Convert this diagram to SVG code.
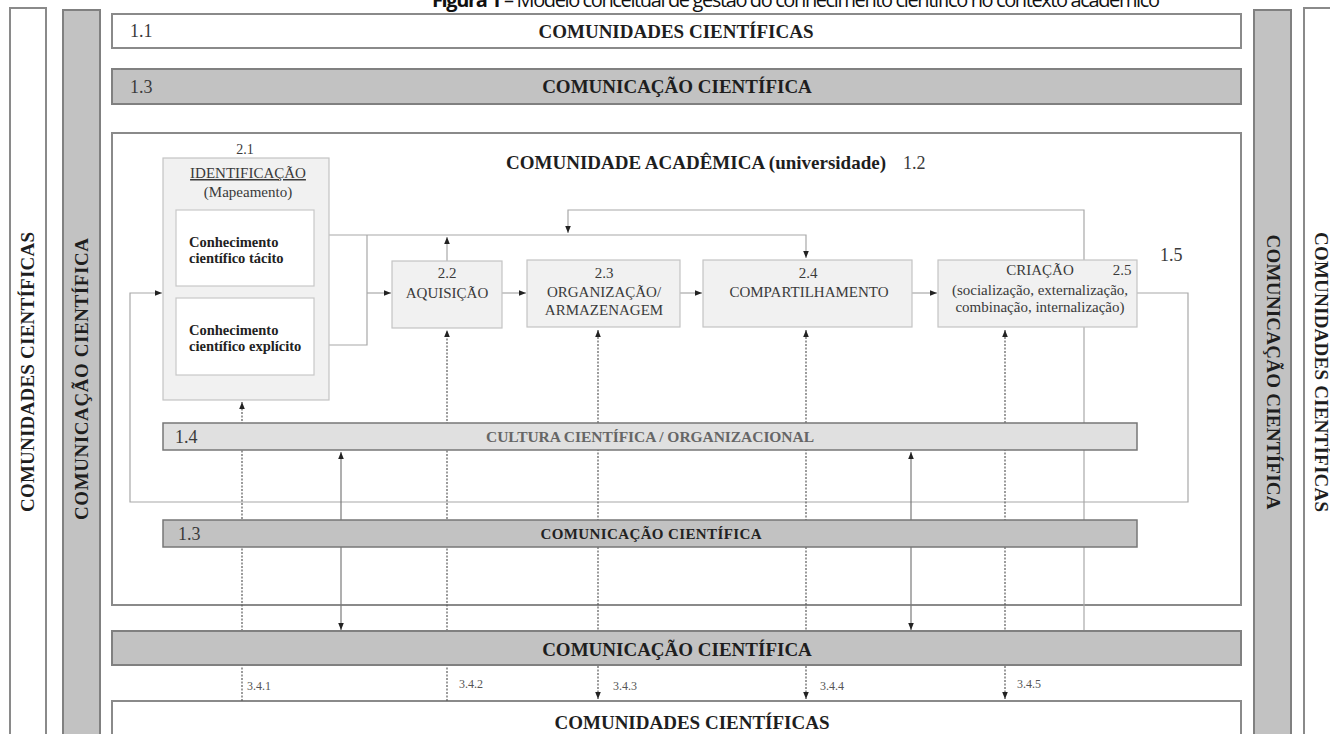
<svg xmlns="http://www.w3.org/2000/svg" width="1330" height="734" viewBox="0 0 1330 734">
<style>
.s{font-family:"Liberation Serif","Times New Roman",serif;}
.b{font-weight:bold;}
.big{font-size:19px;font-weight:bold;fill:#1e1e1e;}
.box{font-size:15px;fill:#3a3a3a;}
.num{font-size:18px;fill:#3a3a3a;}
.lab{font-size:12px;fill:#555;}
.wht{fill:#fff;stroke:#8a8a8a;stroke-width:2;}
.gry{fill:#c2c2c2;stroke:#808080;stroke-width:2;}
.proc{fill:#f1f1f1;stroke:#c4c4c4;stroke-width:1.2;}
.ln{fill:none;stroke:#a8a8a8;stroke-width:1.2;}
.dot{fill:none;stroke:#5a5a5a;stroke-width:1.2;stroke-dasharray:2 1.5;}
.sol{fill:none;stroke:#7a7a7a;stroke-width:1.2;}
</style>
<defs>
<marker id="ah" viewBox="0 0 10 10" refX="10" refY="5" markerWidth="7" markerHeight="7" markerUnits="userSpaceOnUse" orient="auto-start-reverse">
<path d="M0,1 L10,5 L0,9 z" fill="#222"/>
</marker>
</defs>
<rect width="1330" height="734" fill="#fff"/>

<g id="title">
<text x="796" y="7" text-anchor="middle" font-family="'Open Sans','Liberation Sans',sans-serif" font-size="20" fill="#111" textLength="728"><tspan font-weight="bold">Figura 1</tspan> – Modelo conceitual de gestão do conhecimento científico no contexto acadêmico</text>
</g>

<g id="left-comunidades">
<rect class="wht" x="10" y="8" width="36" height="740"/>
<text class="s big" transform="translate(34,372) rotate(-90)" text-anchor="middle" textLength="280">COMUNIDADES CIENTÍFICAS</text>
</g>
<g id="left-comunicacao">
<rect class="gry" x="63" y="10" width="37" height="740"/>
<text class="s big" transform="translate(88,379) rotate(-90)" text-anchor="middle" textLength="282">COMUNICAÇÃO CIENTÍFICA</text>
</g>
<g id="right-comunicacao">
<rect class="gry" x="1254" y="10" width="37" height="740"/>
<text class="s big" transform="translate(1267,372) rotate(90)" text-anchor="middle" textLength="275">COMUNICAÇÃO CIENTÍFICA</text>
</g>
<g id="right-comunidades">
<rect class="wht" x="1304" y="8" width="40" height="740"/>
<text class="s big" transform="translate(1315,372) rotate(90)" text-anchor="middle" textLength="280">COMUNIDADES CIENTÍFICAS</text>
</g>

<g id="n1-1">
<rect class="wht" x="112" y="14" width="1129" height="34"/>
<text class="s num" x="130" y="37" font-size="16">1.1</text>
<text class="s big" x="676" y="38" text-anchor="middle">COMUNIDADES CIENTÍFICAS</text>
</g>
<g id="n1-3-top">
<rect class="gry" x="112" y="69" width="1129" height="35"/>
<text class="s num" x="130" y="93" font-size="16">1.3</text>
<text class="s big" x="677" y="93" text-anchor="middle">COMUNICAÇÃO CIENTÍFICA</text>
</g>
<g id="n1-2">
<rect class="wht" x="112" y="133" width="1129" height="472" stroke="#777"/>
<text class="s" x="506" y="169" font-size="19" fill="#1e1e1e"><tspan font-weight="bold">COMUNIDADE ACADÊMICA (universidade)</tspan><tspan x="903" font-size="18" fill="#3a3a3a">1.2</tspan></text>
</g>
<g id="n3-bottom">
<rect class="wht" x="112" y="701" width="1129" height="60"/>
<text class="s big" x="692" y="729" text-anchor="middle">COMUNIDADES CIENTÍFICAS</text>
</g>

<g id="connectors">
<path class="ln" d="M314,235 H806 V258" marker-end="url(#ah)"/>
<path class="ln" d="M314,345 H367 V235"/>
<path class="ln" d="M367,293 H391" marker-end="url(#ah)"/>
<path class="ln" d="M447,262 V237" marker-end="url(#ah)"/>
<path class="ln" d="M1084,260 V210 H568 V233" marker-end="url(#ah)"/>
<path class="ln" d="M502,293 H526" marker-end="url(#ah)"/>
<path class="ln" d="M680,293 H702" marker-end="url(#ah)"/>
<path class="ln" d="M912,293 H937" marker-end="url(#ah)"/>
<path class="ln" d="M1137,293 H1188 V502 H130 V293 H162" marker-end="url(#ah)"/>
<path class="ln" d="M1084,327 V631"/>
<path class="dot" d="M242,701 V402" marker-end="url(#ah)"/>
<path class="dot" d="M447,701 V330" marker-end="url(#ah)"/>
<path class="dot" d="M598,330 V699" marker-start="url(#ah)" marker-end="url(#ah)"/>
<path class="dot" d="M806,330 V699" marker-start="url(#ah)" marker-end="url(#ah)"/>
<path class="dot" d="M1005,330 V699" marker-start="url(#ah)" marker-end="url(#ah)"/>
<path class="sol" d="M341,452 V630" marker-start="url(#ah)" marker-end="url(#ah)"/>
<path class="sol" d="M911,452 V630" marker-start="url(#ah)" marker-end="url(#ah)"/>
<text class="s lab" x="247" y="690">3.4.1</text>
<text class="s lab" x="459" y="688">3.4.2</text>
<text class="s lab" x="613" y="690">3.4.3</text>
<text class="s lab" x="820" y="690">3.4.4</text>
<text class="s lab" x="1017" y="688">3.4.5</text>
<text class="s num" x="1160" y="261">1.5</text>
</g>

<g id="n1-4">
<rect x="163" y="423" width="974" height="27" fill="#e0e0e0" stroke="#777" stroke-width="1.5"/>
<text class="s" x="175" y="443" font-size="18" fill="#3a3a3a">1.4</text>
<text class="s b" x="650" y="442" text-anchor="middle" font-size="15.5" fill="#666" textLength="328">CULTURA CIENTÍFICA / ORGANIZACIONAL</text>
</g>
<g id="n1-3-inner">
<rect x="163" y="520" width="974" height="27" fill="#c2c2c2" stroke="#777" stroke-width="1.5"/>
<text class="s" x="178" y="540" font-size="18" fill="#3a3a3a">1.3</text>
<text class="s b" x="651" y="539" text-anchor="middle" font-size="15" fill="#222" textLength="221">COMUNICAÇÃO CIENTÍFICA</text>
</g>
<g id="n1-3-bottom">
<rect class="gry" x="112" y="631" width="1129" height="34"/>
<text class="s big" x="677" y="656" text-anchor="middle">COMUNICAÇÃO CIENTÍFICA</text>
</g>

<g id="n2-1">
<text class="s" x="245" y="154" text-anchor="middle" font-size="14" fill="#3a3a3a">2.1</text>
<rect class="proc" x="163" y="158" width="166" height="242" fill="#eeeeee"/>
<text class="s box" x="248" y="178" text-anchor="middle" text-decoration="underline">IDENTIFICAÇÃO</text>
<text class="s box" x="248" y="197" text-anchor="middle">(Mapeamento)</text>
<rect x="176" y="210" width="138" height="76" fill="#fff" stroke="#c8c8c8" stroke-width="1.2"/>
<text class="s b" x="189" y="247" font-size="14.5" fill="#222">Conhecimento</text>
<text class="s b" x="189" y="263" font-size="14.5" fill="#222">científico tácito</text>
<rect x="176" y="298" width="138" height="77" fill="#fff" stroke="#c8c8c8" stroke-width="1.2"/>
<text class="s b" x="189" y="335" font-size="14.5" fill="#222">Conhecimento</text>
<text class="s b" x="189" y="351" font-size="14.5" fill="#222">científico explícito</text>
</g>
<g id="n2-2">
<rect class="proc" x="392" y="261" width="110" height="67"/>
<text class="s box" x="447" y="278" text-anchor="middle">2.2</text>
<text class="s box" x="447" y="298" text-anchor="middle">AQUISIÇÃO</text>
</g>
<g id="n2-3">
<rect class="proc" x="527" y="260" width="153" height="67"/>
<text class="s box" x="604" y="278" text-anchor="middle">2.3</text>
<text class="s box" x="604" y="297" text-anchor="middle">ORGANIZAÇÃO/</text>
<text class="s box" x="604" y="315" text-anchor="middle">ARMAZENAGEM</text>
</g>
<g id="n2-4">
<rect class="proc" x="703" y="260" width="209" height="67"/>
<text class="s box" x="808" y="278" text-anchor="middle">2.4</text>
<text class="s box" x="809" y="297" text-anchor="middle">COMPARTILHAMENTO</text>
</g>
<g id="n2-5">
<rect class="proc" x="938" y="260" width="199" height="67"/>
<text class="s box" x="1040" y="275" text-anchor="middle">CRIAÇÃO</text>
<text class="s box" x="1122" y="275" text-anchor="middle" font-size="14">2.5</text>
<text class="s box" x="1040" y="295" text-anchor="middle">(socialização, externalização,</text>
<text class="s box" x="1040" y="312" text-anchor="middle">combinação, internalização)</text>
</g>
</svg>
